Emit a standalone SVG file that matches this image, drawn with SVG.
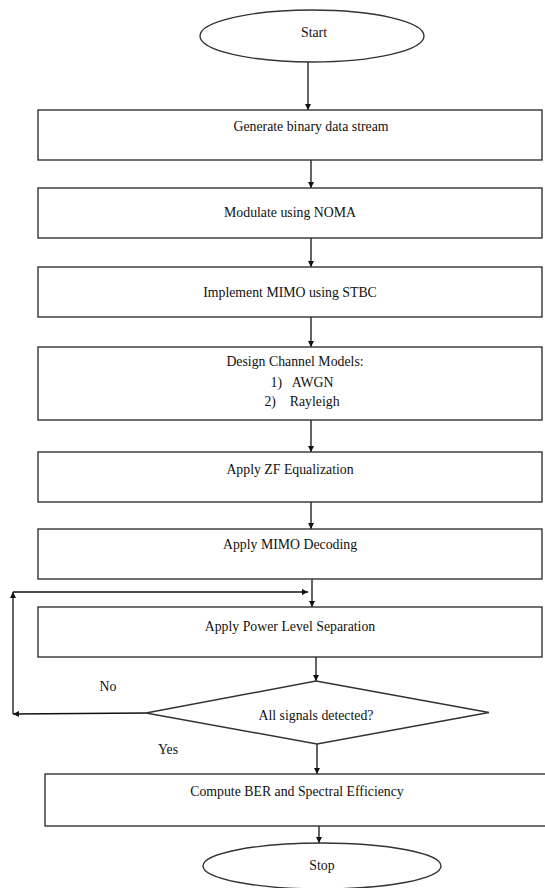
<svg xmlns="http://www.w3.org/2000/svg" width="545" height="888" viewBox="0 0 545 888">
<defs>
<style>
.shape{fill:#fff;stroke:#333;stroke-width:1.4}
.line{fill:none;stroke:#111;stroke-width:1.3}
text{font-family:"Liberation Serif","Times New Roman",serif;font-size:13.8px;fill:#111;text-anchor:middle;dominant-baseline:middle}
</style>
<marker id="arr" viewBox="0 0 10 10" refX="10" refY="5" markerWidth="6" markerHeight="6" orient="auto" markerUnits="userSpaceOnUse">
<path d="M0,0 L10,5 L0,10 Z" fill="#111"/>
</marker>
</defs>
<rect width="545" height="888" fill="#fff"/>
<g id="connectors">
<line class="line" x1="308" y1="62" x2="308" y2="110" marker-end="url(#arr)"/>
<line class="line" x1="311" y1="160" x2="311" y2="188" marker-end="url(#arr)"/>
<line class="line" x1="311" y1="238" x2="311" y2="267" marker-end="url(#arr)"/>
<line class="line" x1="311" y1="317" x2="311" y2="347" marker-end="url(#arr)"/>
<line class="line" x1="311" y1="420" x2="311" y2="452" marker-end="url(#arr)"/>
<line class="line" x1="311" y1="502" x2="311" y2="529" marker-end="url(#arr)"/>
<line class="line" x1="312" y1="579" x2="312" y2="607" marker-end="url(#arr)"/>
<line class="line" x1="316" y1="657" x2="316" y2="681" marker-end="url(#arr)"/>
<line class="line" x1="146" y1="713" x2="13" y2="714" marker-end="url(#arr)"/>
<line class="line" x1="13" y1="714" x2="13" y2="592" marker-end="url(#arr)"/>
<line class="line" x1="13" y1="592" x2="308" y2="592" marker-end="url(#arr)"/>
<line class="line" x1="317" y1="744" x2="317" y2="774" marker-end="url(#arr)"/>
<line class="line" x1="319" y1="826" x2="319" y2="843" marker-end="url(#arr)"/>
<text x="108" y="688">No</text>
<text x="168" y="751">Yes</text>
</g>
<g id="start"><ellipse class="shape" cx="312" cy="36" rx="112" ry="26"/><text x="314" y="34">Start</text></g>
<g id="generate"><rect class="shape" x="38" y="110" width="504" height="50"/><text x="311" y="128">Generate binary data stream</text></g>
<g id="modulate"><rect class="shape" x="38" y="188" width="504" height="50"/><text x="290" y="214">Modulate using NOMA</text></g>
<g id="mimo"><rect class="shape" x="38" y="267" width="504" height="50"/><text x="290" y="294">Implement MIMO using STBC</text></g>
<g id="channel"><rect class="shape" x="38" y="347" width="504" height="73"/>
<text x="295" y="363">Design Channel Models:</text>
<text x="302" y="384" xml:space="preserve">1)   AWGN</text>
<text x="302" y="403" xml:space="preserve">2)    Rayleigh</text></g>
<g id="zf"><rect class="shape" x="38" y="452" width="504" height="50"/><text x="290" y="471">Apply ZF Equalization</text></g>
<g id="decoding"><rect class="shape" x="38" y="529" width="504" height="50"/><text x="290" y="546">Apply MIMO Decoding</text></g>
<g id="power"><rect class="shape" x="38" y="607" width="504" height="50"/><text x="290" y="628">Apply Power Level Separation</text></g>
<g id="decision"><polygon class="shape" points="316,681 489,712.5 317,744 146,713"/><text x="316" y="717">All signals detected?</text></g>
<g id="compute"><rect class="shape" x="45" y="774" width="506" height="52"/><text x="297" y="793">Compute BER and Spectral Efficiency</text></g>
<g id="stop"><ellipse class="shape" cx="322" cy="866" rx="119" ry="23"/><text x="322" y="867">Stop</text></g>
</svg>
